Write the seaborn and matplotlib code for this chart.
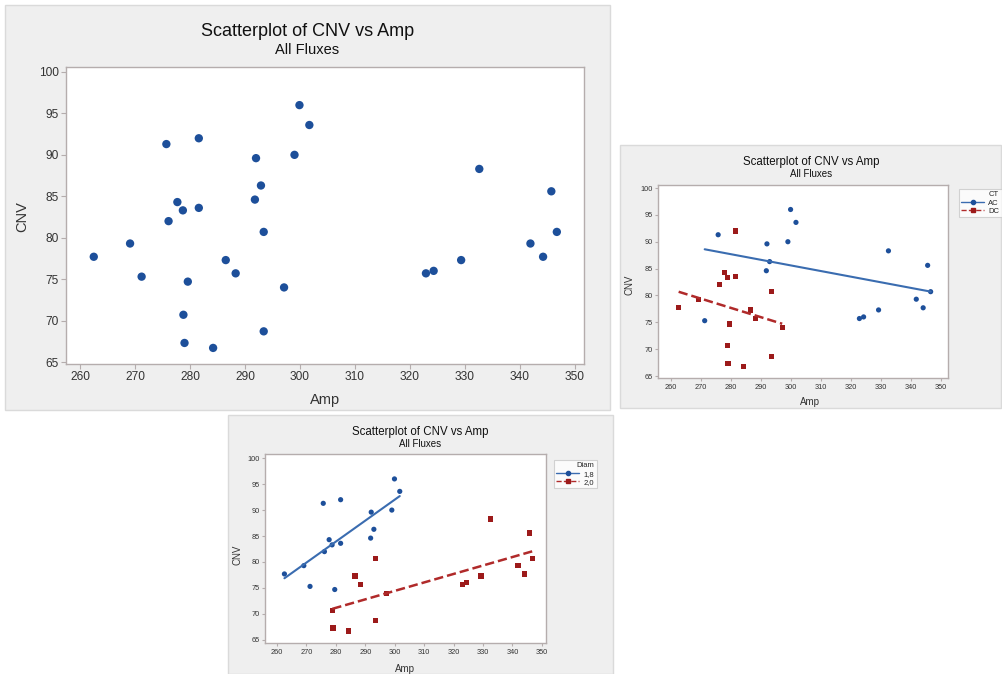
import matplotlib
matplotlib.use("Agg")
import matplotlib.pyplot as plt
from matplotlib.patches import Rectangle
from matplotlib.lines import Line2D
import numpy as np
import pandas as pd
import seaborn as sns

# Measurements
amp = [262.5, 269.1, 271.2, 275.7, 276.1, 277.7, 278.7, 281.6, 281.6, 279.6,
       278.8, 279.0, 284.2, 286.5, 288.3, 291.8, 292.0, 292.9, 293.4, 293.4,
       297.1, 299.0, 299.9, 301.7, 322.9, 324.3, 329.3, 332.6, 341.9, 344.2,
       345.7, 346.7]
cnv = [77.7, 79.3, 75.3, 91.3, 82.0, 84.3, 83.3, 92.0, 83.6, 74.7,
       70.7, 67.3, 66.7, 77.3, 75.7, 84.6, 89.6, 86.3, 80.7, 68.7,
       74.0, 90.0, 96.0, 93.6, 75.7, 76.0, 77.3, 88.3, 79.3, 77.7,
       85.6, 80.7]
ct = ["DC", "DC", "AC", "AC", "DC", "DC", "DC", "DC", "DC", "DC",
      "DC", "DC", "DC", "DC", "DC", "AC", "AC", "AC", "DC", "DC",
      "DC", "AC", "AC", "AC", "AC", "AC", "AC", "AC", "AC", "AC",
      "AC", "AC"]
diam = ["1,8", "1,8", "1,8", "1,8", "1,8", "1,8", "1,8", "1,8", "1,8", "1,8",
        "2,0", "2,0", "2,0", "2,0", "2,0", "1,8", "1,8", "1,8", "2,0", "2,0",
        "2,0", "1,8", "1,8", "1,8", "2,0", "2,0", "2,0", "2,0", "2,0", "2,0",
        "2,0", "2,0"]

ct_levels = ["AC", "DC"]
diam_levels = ["1,8", "2,0"]
x_ticks = [260, 270, 280, 290, 300, 310, 320, 330, 340, 350]
y_ticks = [65, 70, 75, 80, 85, 90, 95, 100]

df = pd.DataFrame({"Amp": amp, "CNV": cnv, "CT": ct, "Diam": diam})

sns.set_theme(style="white")
plt.rcParams["font.family"] = ["Liberation Sans", "DejaVu Sans"]

BLUE = "#1d4f9a"
RED = "#9c1a1a"
LINE_BLUE = "#3a6cb0"
LINE_RED = "#b02a2a"
TEXT = "#333333"
FRAME = "#b5adad"
PANEL = "#efefef"

W, H = 1003, 674
fig = plt.figure(figsize=(W / 100, H / 100), dpi=100)
fig.patch.set_facecolor("white")


def px_rect(x0, y0, x1, y1):
    return [x0 / W, 1 - y1 / H, (x1 - x0) / W, (y1 - y0) / H]


def panel(x0, y0, x1, y1):
    fig.patches.append(Rectangle((x0 / W, 1 - y1 / H), (x1 - x0) / W, (y1 - y0) / H,
                                 transform=fig.transFigure, facecolor=PANEL,
                                 edgecolor="#dadada", lw=1.0, zorder=-5))


def style_axes(ax, xlim, ylim, tick_fs, tick_len):
    ax.set_zorder(2)
    ax.set_xlim(*xlim)
    ax.set_ylim(*ylim)
    ax.set_xticks(x_ticks)
    ax.set_yticks(y_ticks)
    ax.set_facecolor("white")
    for s in ax.spines.values():
        s.set_color(FRAME)
        s.set_linewidth(1.0)
        s.set_visible(True)
    ax.tick_params(axis="both", which="both", direction="out", length=tick_len,
                   width=0.8, color=FRAME, labelsize=tick_fs, labelcolor=TEXT,
                   pad=1.5, bottom=True, left=True, top=False, right=False)
    ax.set_xlabel("")
    ax.set_ylabel("")


def titles(cx, y_title, y_sub, fs_t, fs_s):
    fig.text(cx / W, 1 - y_title / H, "Scatterplot of CNV vs Amp", ha="center",
             va="center", fontsize=fs_t, color="#111111")
    fig.text(cx / W, 1 - y_sub / H, "All Fluxes", ha="center", va="center",
             fontsize=fs_s, color="#111111")


def axis_labels(xl, yl, fs):
    fig.text(xl[0] / W, 1 - xl[1] / H, "Amp", ha="center", va="center",
             fontsize=fs, color=TEXT)
    fig.text(yl[0] / W, 1 - yl[1] / H, "CNV", ha="center", va="center",
             fontsize=fs, color=TEXT, rotation=90)


def legend(handles, labels, title, x, y):
    leg = fig.legend(handles, labels, title=title, loc="upper left",
                     bbox_to_anchor=(x / W, 1 - y / H), fontsize=5.5,
                     title_fontsize=5.5, frameon=True, fancybox=False,
                     handlelength=3.0, handletextpad=0.5, borderpad=0.35,
                     labelspacing=0.1, alignment="right")
    leg.set_zorder(3)
    fr = leg.get_frame()
    fr.set_edgecolor("#c8c8c8")
    fr.set_facecolor("white")
    fr.set_linewidth(0.8)
    return leg


def group_handles():
    return [Line2D([], [], color=LINE_BLUE, marker="o", ms=3, mfc=BLUE, mec=BLUE, lw=1.0),
            Line2D([], [], color=LINE_RED, marker="s", ms=2.6, mfc=RED, mec=RED,
                   lw=1.0, ls="--")]


# ---- Panel 1: all points ----
panel(5, 5, 610, 410)
ax1 = fig.add_axes(px_rect(66, 67, 584, 364))
sns.scatterplot(data=df, x="Amp", y="CNV", ax=ax1, color=BLUE, s=36,
                edgecolor="none", legend=False)
style_axes(ax1, (257.45, 351.64), (64.76, 100.6), 8.6, 3.5)
titles(307.5, 31, 50, 13, 10.5)
axis_labels((325, 400), (22, 217), 10.5)

# ---- Panel 2: grouped by CT ----
panel(620, 145, 1001, 408)
ax2 = fig.add_axes(px_rect(658, 185, 948, 378))
sns.scatterplot(data=df, x="Amp", y="CNV", hue="CT", style="CT", ax=ax2,
                hue_order=ct_levels, style_order=ct_levels,
                palette={"AC": BLUE, "DC": RED}, markers={"AC": "o", "DC": "s"},
                s=14, edgecolor="none", legend=False)
for lvl, col, ls in [("AC", LINE_BLUE, "-"), ("DC", LINE_RED, "--")]:
    sns.regplot(data=df[df["CT"] == lvl], x="Amp", y="CNV", ax=ax2,
                scatter=False, ci=None, color=col,
                line_kws=dict(lw=1.5 if ls == "-" else 1.8, ls=ls))
style_axes(ax2, (255.6, 352.5), (64.63, 100.56), 5.3, 2.5)
titles(811, 162, 174, 8.3, 7)
axis_labels((810, 402), (630, 285), 7)
legend(group_handles(), ct_levels, "CT", 955, 185)

# ---- Panel 3: grouped by Diam ----
panel(228, 415, 613, 674)
ax3 = fig.add_axes(px_rect(265, 454, 546, 643))
sns.scatterplot(data=df, x="Amp", y="CNV", hue="Diam", style="Diam", ax=ax3,
                hue_order=diam_levels, style_order=diam_levels,
                palette={"1,8": BLUE, "2,0": RED}, markers={"1,8": "o", "2,0": "s"},
                s=14, edgecolor="none", legend=False)
for lvl, col, ls in [("1,8", LINE_BLUE, "-"), ("2,0", LINE_RED, "--")]:
    sns.regplot(data=df[df["Diam"] == lvl], x="Amp", y="CNV", ax=ax3,
                scatter=False, ci=None, color=col,
                line_kws=dict(lw=1.5 if ls == "-" else 1.8, ls=ls))
style_axes(ax3, (255.9, 351.4), (64.4, 100.8), 5.3, 2.5)
titles(420, 432, 444, 8.3, 7)
axis_labels((405, 669), (238, 555), 7)
legend(group_handles(), diam_levels, "Diam", 550, 456)

fig.savefig("out.png", dpi=100, facecolor="white")
